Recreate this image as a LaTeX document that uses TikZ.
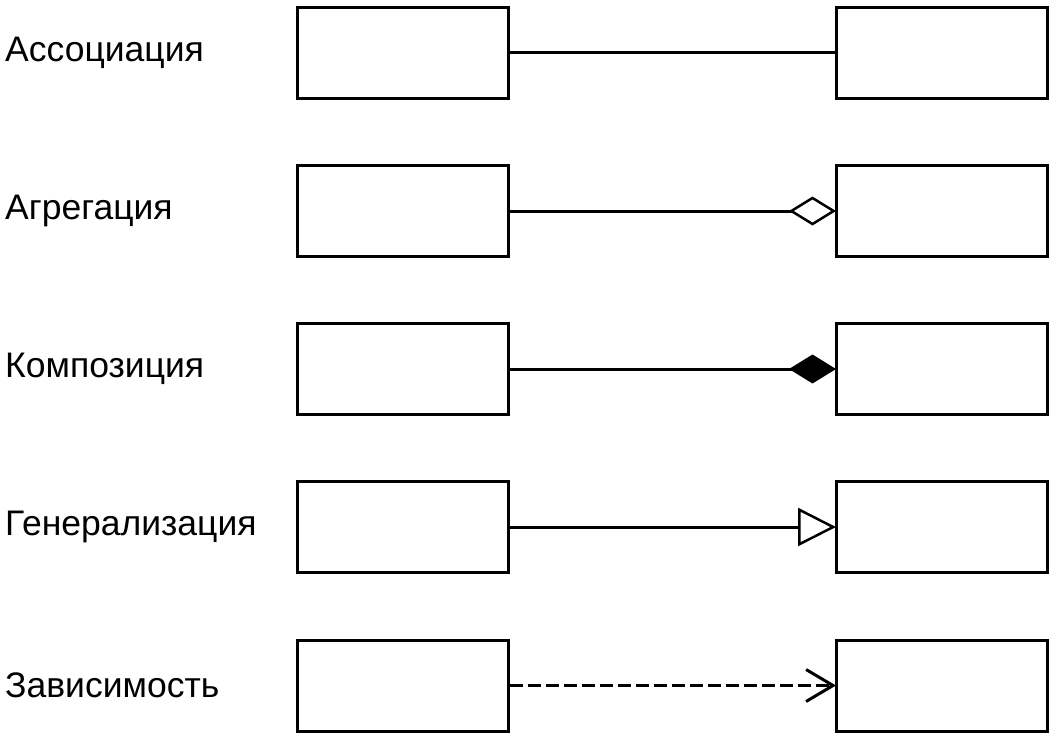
\documentclass[tikz,border=0pt]{standalone}
\usepackage{fontspec}
\setmainfont{Liberation Sans}
\usetikzlibrary{arrows.meta}
\tikzset{
    classbox/.style={draw, line width=3pt, minimum width=211pt, minimum height=91pt, inner sep=0pt},
    relname/.style={anchor=west, inner sep=0pt, font=\fontsize{35.5}{40}\selectfont},
    rel/.style={line width=3pt, shorten >=-1.5pt}
}
\begin{document}
\begin{tikzpicture}[x=1pt,y=-1pt]
    \useasboundingbox (0,0) rectangle (1052,736);
    % Assoziation
    \node[relname] (nassoc) at (5,52.5) {Ассоциация};
    \node[classbox] (lassoc) at (402.5,52.5) {};
    \node[classbox] (rassoc) at (941.5,52.5) {};
    \draw[line width=3pt] (lassoc.east)--(rassoc.west);
    % Aggregation
    \node[relname] (naggr) at (5,211) {Агрегация};
    \node[classbox] (laggr) at (402.5,211) {};
    \node[classbox] (raggr) at (941.5,211) {};
    \draw[rel, -{Diamond[open, length=47pt, width=29pt, line width=2.5pt]}] (laggr.east)--(raggr.west);
    % Komposition
    \node[relname] (ncomp) at (5,369) {Композиция};
    \node[classbox] (lcomp) at (402.5,369) {};
    \node[classbox] (rcomp) at (941.5,369) {};
    \draw[rel, -{Diamond[length=47pt, width=29pt]}] (lcomp.east)--(rcomp.west);
    % Generalisierung
    \node[relname] (ngen) at (5,527) {Генерализация};
    \node[classbox] (lgen) at (402.5,527) {};
    \node[classbox] (rgen) at (941.5,527) {};
    \draw[rel, -{Triangle[open, length=38pt, width=38pt, line width=2.5pt]}] (lgen.east)--(rgen.west);
    % Abhaengigkeit
    \node[relname] (ndep) at (5,685.5) {Зависимость};
    \node[classbox] (ldep) at (402.5,685.5) {};
    \node[classbox] (rdep) at (941.5,685.5) {};
    \draw[rel, dash pattern=on 13pt off 5pt, -{Straight Barb[length=27pt, width=32pt, line width=3pt]}] (ldep.east)--(rdep.west);
\end{tikzpicture}
\end{document}
